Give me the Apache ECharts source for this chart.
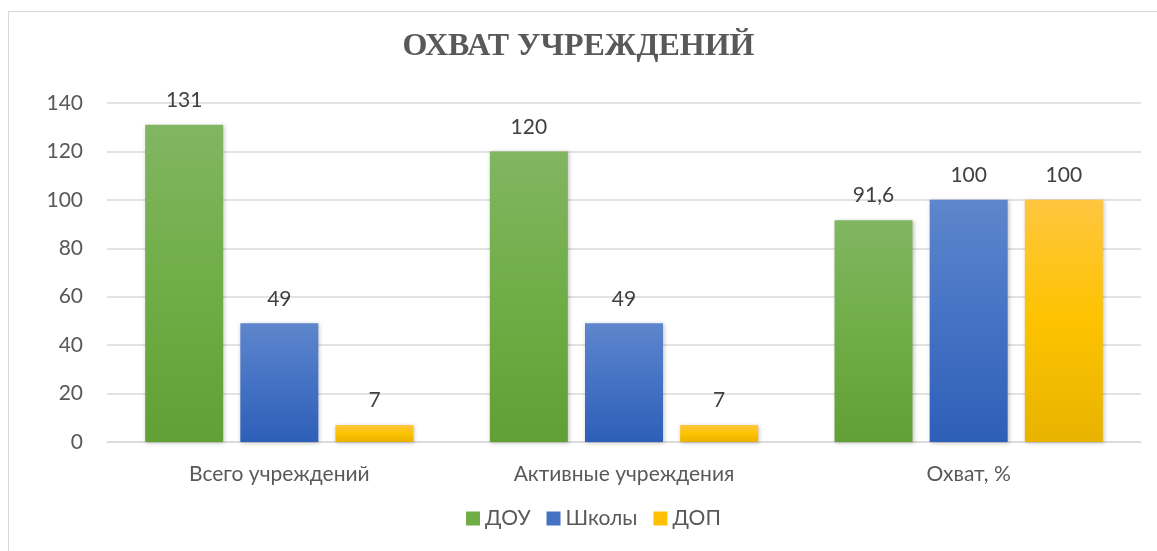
<!DOCTYPE html>
<html>
<head>
<meta charset="utf-8">
<script src="https://cdn.jsdelivr.net/npm/echarts@6/dist/echarts.min.js"></script>
<style>
  html, body { margin: 0; padding: 0; background: #fff; }
  #frame { position: absolute; left: 8px; top: 11px; width: 1160px; height: 560px; border: 1px solid #d9d9d9; box-sizing: border-box; }
  #chart { position: absolute; left: 0; top: 0; width: 1157px; height: 551px; }
</style>
</head>
<body>
<div id="frame"></div>
<div id="chart"></div>
<script>
// данные диаграммы
const categories = ['Всего учреждений', 'Активные учреждения', 'Охват, %'];
const seriesNames = ['ДОУ', 'Школы', 'ДОП'];
const douValues = [131, 120, 91.6];
const schoolValues = [49, 49, 100];
const dopValues = [7, 7, 100];
const yTicks = [0, 20, 40, 60, 80, 100, 120, 140];

const font = 'Lato, "Open Sans", sans-serif';
const fs = 21;

function grad(top, mid, bottom) {
  return new echarts.graphic.LinearGradient(0, 0, 0, 1, [
    {offset: 0, color: top},
    {offset: 0.5, color: mid},
    {offset: 1, color: bottom}
  ]);
}

const colors = [
  grad('#81b662', '#70ad47', '#61a035'),
  grad('#5f86cd', '#4472c4', '#2e5fb8'),
  grad('#ffc63f', '#fdc300', '#e8b300')
];
const legendColors = ['#70ad47', '#4472c4', '#ffc000'];

function makeSeries(name, data, i) {
  return {
    name: name,
    type: 'bar',
    data: data,
    barWidth: 78,
    barGap: '22%',
    itemStyle: {
      color: colors[i],
      shadowBlur: 4,
      shadowColor: 'rgba(0,0,0,0.25)',
      shadowOffsetX: 1,
      shadowOffsetY: 1
    },
    label: {
      show: true,
      position: 'top',
      distance: 14,
      color: '#404040',
      fontSize: fs,
      fontFamily: font,
      formatter: p => String(p.value).replace('.', ',')
    }
  };
}

const chart = echarts.init(document.getElementById('chart'));
chart.setOption({
  animation: false,
  title: {
    text: 'ОХВАТ УЧРЕЖДЕНИЙ',
    left: 'center',
    top: 26,
    textStyle: {
      fontFamily: '"Liberation Serif", "DejaVu Serif", serif',
      fontWeight: 'bold',
      fontSize: 32,
      color: '#595959'
    }
  },
  legend: {
    data: seriesNames.map((n, i) => ({name: n, itemStyle: {color: legendColors[i]}})),
    bottom: 17,
    left: 461,
    icon: 'rect',
    itemWidth: 14,
    itemHeight: 14,
    itemGap: 16,
    textStyle: {fontSize: fs, fontFamily: font, color: '#595959'}
  },
  grid: {left: 107, right: 16, top: 103, bottom: 109},
  xAxis: {
    type: 'category',
    data: categories,
    axisLine: {lineStyle: {color: '#d9d9d9', width: 1.5}},
    axisTick: {show: false},
    axisLabel: {fontSize: fs, fontFamily: font, color: '#595959', margin: 22}
  },
  yAxis: {
    type: 'value',
    min: yTicks[0],
    max: yTicks[yTicks.length - 1],
    interval: 20,
    axisLine: {show: false},
    axisTick: {show: false},
    splitLine: {lineStyle: {color: '#d9d9d9', width: 1.5}},
    axisLabel: {fontSize: fs, fontFamily: font, color: '#595959', margin: 24}
  },
  series: [
    makeSeries(seriesNames[0], douValues, 0),
    makeSeries(seriesNames[1], schoolValues, 1),
    makeSeries(seriesNames[2], dopValues, 2)
  ]
});
</script>
</body>
</html>
